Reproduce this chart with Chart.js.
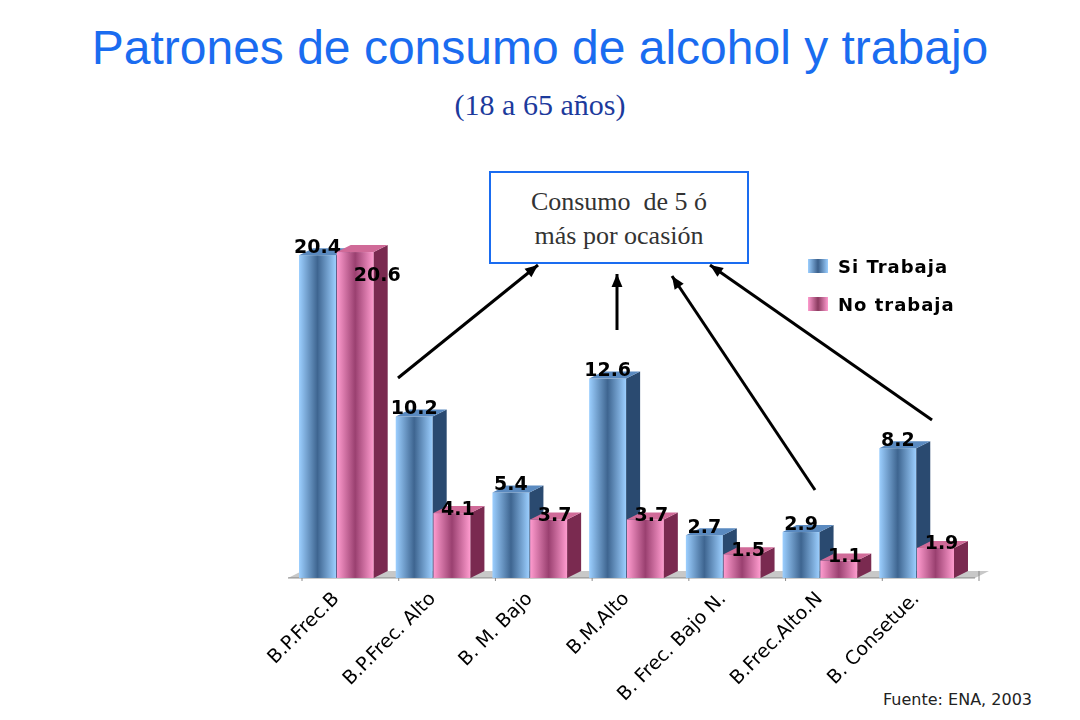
<!DOCTYPE html>
<html><head><meta charset="utf-8">
<script src="https://cdn.jsdelivr.net/npm/chart.js@4"></script>
<style>
body{margin:0;width:1080px;height:720px;background:#fff;position:relative;overflow:hidden;font-family:"DejaVu Sans"}
#t{position:absolute;top:20px;left:0;width:1080px;text-align:center;color:#1a6cf0;font:48px "Liberation Sans",Arial}
#s{position:absolute;top:88px;left:0;width:1080px;text-align:center;color:#1c3a9c;font:30px "Liberation Serif",serif}
#box{position:absolute;left:489px;top:171px;width:260px;height:93px;border:2px solid #1a6cf0;box-sizing:border-box;text-align:center;font:26px "Liberation Serif",serif;color:#333;padding-top:12px;line-height:34px;background:#fff;z-index:2}
#lg{position:absolute;left:808px;top:256px;font:bold 18px "DejaVu Sans";letter-spacing:1px;z-index:2}
#lg div{height:38px;display:flex;align-items:flex-start}
#lg span{display:inline-block;width:20px;height:14px;margin:3px 10px 0 0}
#src{position:absolute;right:48px;top:690px;font:16px "DejaVu Sans";color:#222}
canvas{position:absolute;left:0;top:0}
</style></head><body>
<div id="t">Patrones de consumo de alcohol y trabajo</div>
<div id="s">(18 a 65 años)</div>
<div id="box">Consumo &nbsp;de 5 ó<br>más por ocasión</div>
<div id="lg"><div><span style="background:linear-gradient(90deg,#9ccfff,#3a5f8a,#9ccfff)"></span>Si Trabaja</div><div><span style="background:linear-gradient(90deg,#ff9ccf,#8a3a5f,#ff9ccf)"></span>No trabaja</div></div>
<div id="src">Fuente: ENA, 2003</div>
<canvas id="c" width="1080" height="720"></canvas>
<script>
const categories=["B.P.Frec.B","B.P.Frec. Alto","B. M. Bajo","B.M.Alto","B. Frec. Bajo N.","B.Frec.Alto.N","B. Consetue."];
const siTrabaja=[20.4,10.2,5.4,12.6,2.7,2.9,8.2];
const noTrabaja=[20.6,4.1,3.7,3.7,1.5,1.1,1.9];
const DX=14,DY=7;
const threeD={id:'threeD',
  beforeDatasetsDraw(ch){
    const c=ch.ctx,a=ch.chartArea,y=ch.scales.y.getPixelForValue(0);
    c.save();c.fillStyle='#c8c8c8';c.beginPath();c.moveTo(a.left,y);c.lineTo(a.left+DX,y-DY);c.lineTo(a.right+DX+10,y-DY);c.lineTo(a.right+10,y);c.fill();
    c.strokeStyle='#888';c.beginPath();c.moveTo(a.left,y);c.lineTo(a.right+10,y);c.stroke();
    for(let i=0;i<=categories.length;i++){const xx=a.left+(a.right-a.left)*i/categories.length;c.beginPath();c.moveTo(xx+DX,y-DY);c.lineTo(xx+DX,y-DY+10);c.stroke();}
    c.restore();
  },
  afterDatasetsDraw(ch){
    const c=ch.ctx;c.save();
    ch.data.datasets.forEach((ds,di)=>{
      const side=di?'#7a2a50':'#2a4a70',top=di?'#d06a98':'#5a8ac0';
      const light=di?'#ff9ccf':'#9ccfff',dark=di?'#9a4070':'#3e6590';
      ch.getDatasetMeta(di).data.forEach((b,i)=>{
        const l=b.x-b.width/2,r=b.x+b.width/2,t=b.y,bt=b.base;
        const g=c.createLinearGradient(l,0,r,0);g.addColorStop(0,light);g.addColorStop(0.5,dark);g.addColorStop(1,light);
        c.fillStyle=g;c.fillRect(l,t,r-l,bt-t);
        c.fillStyle=side;c.beginPath();c.moveTo(r,t);c.lineTo(r+DX,t-DY);c.lineTo(r+DX,bt-DY);c.lineTo(r,bt);c.fill();
        c.fillStyle=top;c.beginPath();c.moveTo(l,t);c.lineTo(l+DX,t-DY);c.lineTo(r+DX,t-DY);c.lineTo(r,t);c.fill();
        c.fillStyle='#000';c.font='bold 19px "DejaVu Sans"';c.textAlign='center';c.textBaseline='bottom';
        const v=ds.data[i];
        if(di===1&&i===0) c.fillText(v.toFixed(1),b.x+22,t+34);
        else c.fillText(v.toFixed(1),b.x+(di?6:0),t+(di?6:2));
      });
    });
    const arr=(x1,y1,x2,y2)=>{c.strokeStyle='#000';c.lineWidth=3;c.beginPath();c.moveTo(x1,y1);c.lineTo(x2,y2);c.stroke();
      const an=Math.atan2(y2-y1,x2-x1);c.fillStyle='#000';c.beginPath();c.moveTo(x2,y2);
      c.lineTo(x2-14*Math.cos(an-0.4),y2-14*Math.sin(an-0.4));c.lineTo(x2-14*Math.cos(an+0.4),y2-14*Math.sin(an+0.4));c.fill();};
    arr(398,378,538,265);arr(617,330,617,274);arr(815,490,672,276);arr(932,420,710,265);
    c.restore();
  }};
new Chart(document.getElementById('c'),{type:'bar',
  data:{labels:categories,datasets:[
    {label:'Si Trabaja',data:siTrabaja,backgroundColor:'rgba(0,0,0,0)'},
    {label:'No trabaja',data:noTrabaja,backgroundColor:'rgba(0,0,0,0)'}]},
  options:{responsive:false,animation:false,
    layout:{padding:{left:280,right:115,top:222,bottom:12}},
    plugins:{legend:{display:false},tooltip:{enabled:false}},
    datasets:{bar:{categoryPercentage:0.78,barPercentage:0.98}},
    scales:{
      x:{grid:{display:false},border:{display:false},ticks:{color:'#000',font:{size:19,family:'DejaVu Sans'},minRotation:45,maxRotation:45,padding:2}},
      y:{display:true,min:0,max:22.5,grid:{display:false},border:{display:false},ticks:{display:false}}
    }},
  plugins:[threeD]});
</script>
</body></html>
